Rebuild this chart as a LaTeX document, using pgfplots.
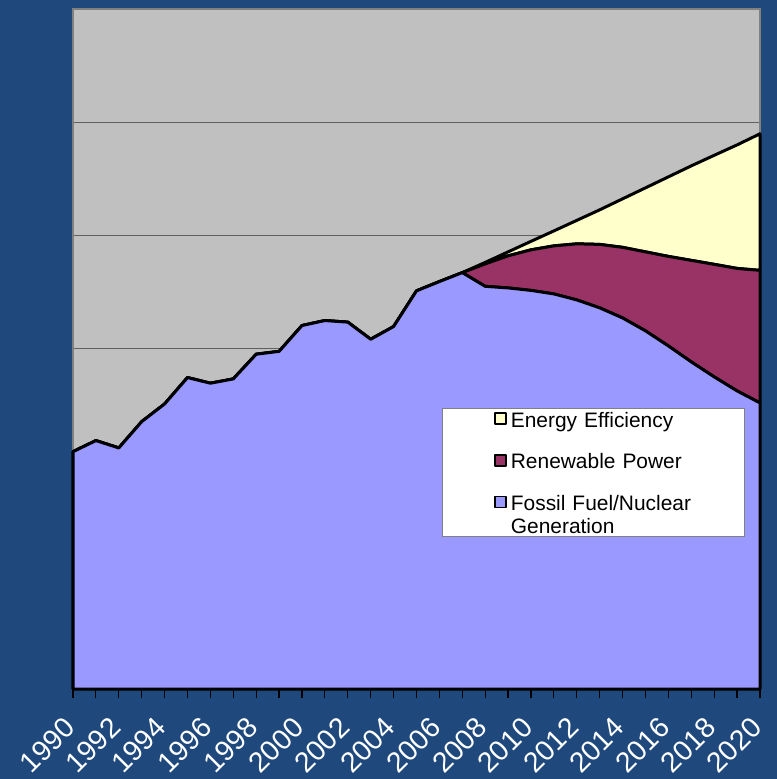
\documentclass[border=0pt]{standalone}
\usepackage{pgfplots}
\pgfplotsset{compat=1.18}
\usepackage{pgfplotstable}
\usepackage{fontspec}
\setmainfont{Liberation Sans}
\definecolor{bgblue}{HTML}{1F497D}
\definecolor{plotgray}{HTML}{C0C0C0}
\definecolor{fossil}{HTML}{9999FF}
\definecolor{renew}{HTML}{993366}
\definecolor{effic}{HTML}{FFFFCC}
\definecolor{gridc}{HTML}{606060}

\pgfplotstableread{
year fossil renew effic
1990 2.094 0 0
1991 2.192 0 0
1992 2.127 0 0
1993 2.359 0 0
1994 2.515 0 0
1995 2.748 0 0
1996 2.698 0 0
1997 2.736 0 0
1998 2.954 0 0
1999 2.979 0 0
2000 3.207 0 0
2001 3.251 0 0
2002 3.237 0 0
2003 3.086 0 0
2004 3.198 0 0
2005 3.513 0 0
2006 3.595 0 0
2007 3.674 0 0
2008 3.553 0.198 0.013
2009 3.539 0.283 0.035
2010 3.517 0.358 0.075
2011 3.486 0.424 0.132
2012 3.433 0.495 0.207
2013 3.363 0.560 0.305
2014 3.274 0.623 0.428
2015 3.160 0.697 0.565
2016 3.027 0.790 0.702
2017 2.886 0.896 0.834
2018 2.754 0.993 0.962
2019 2.630 1.081 1.090
2020 2.524 1.170 1.205
}\datatable

\begin{document}
\begin{tikzpicture}
\useasboundingbox (-73bp,-90bp) rectangle (704bp,689bp);
\fill[bgblue] (-73bp,-90bp) rectangle (704bp,689bp);
\begin{axis}[
  at={(0,0)}, anchor=south west,
  scale only axis, width=687bp, height=680bp,
  xmin=1990, xmax=2020, ymin=0, ymax=6,
  axis background/.style={fill=plotgray},
  axis line style={draw=gray, line width=1.5bp},
  stack plots=y,
  clip=false,
  xtick={1990,...,2020},
  xticklabels={1990,,1992,,1994,,1996,,1998,,2000,,2002,,2004,,2006,,2008,,2010,,2012,,2014,,2016,,2018,,2020},
  x tick label style={xshift=4bp, yshift=-32bp, rotate=45, anchor=south east, text=white, font=\fontsize{28.5}{30}\selectfont, inner sep=0pt},
  tick align=outside,
  xtick pos=left,
  major tick length=9bp,
  x tick style={black, line width=1.2bp},
  ytick={1,2,3,4,5}, yticklabels={}, y tick style={draw=none},
  ymajorgrids, grid style={draw=gridc, line width=1bp},
  reverse legend,
  legend image code/.code={\draw[#1, line width=1.5bp] (0bp,3bp) rectangle (11bp,14bp);},
  legend style={at={(0.5371,0.4132)}, anchor=north west, draw=gray, line width=0.8bp, fill=white,
    inner xsep=52bp, inner ysep=2.7bp, font=\fontsize{21}{23}\selectfont,
    row sep=18.7bp, column sep=4bp,
    cells={anchor=base west},
    nodes={inner sep=0pt, anchor=base west, text width=182bp, align=left, text depth=, text height=}},
]
\addplot[fill=fossil, draw=black, line width=3bp, line join=round] table[x=year, y=fossil]{\datatable} \closedcycle;
\addlegendentry{\rule[-7bp]{0pt}{23bp}Fossil Fuel/Nuclear\\Generation}
\addplot[fill=renew, draw=black, line width=3bp, line join=round] table[x=year, y=renew]{\datatable} \closedcycle;
\addlegendentry{\rule[-7bp]{0pt}{23bp}Renewable Power}
\addplot[fill=effic, draw=black, line width=3bp, line join=round] table[x=year, y=effic]{\datatable} \closedcycle;
\addlegendentry{\rule[-7bp]{0pt}{23bp}Energy Efficiency}
\end{axis}
\end{tikzpicture}
\end{document}
